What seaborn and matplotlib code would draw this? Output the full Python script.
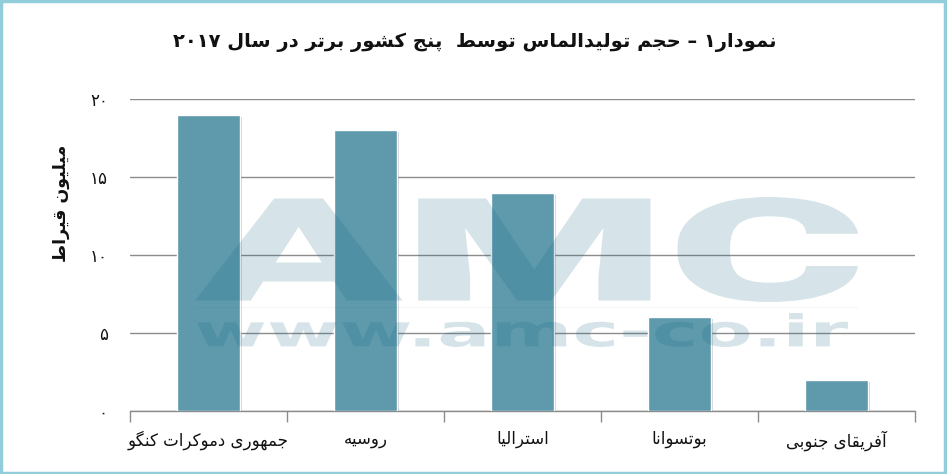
import matplotlib
matplotlib.use("Agg")
import matplotlib.pyplot as plt
import matplotlib.patheffects as pe
from matplotlib.textpath import TextPath
from matplotlib.patches import PathPatch, Rectangle
from matplotlib.font_manager import FontProperties
from matplotlib.transforms import Affine2D
import seaborn as sns
import pandas as pd

# ---------------- data ----------------
categories = ["جمهوری دموکرات کنگو", "روسیه", "استرالیا", "بوتسوانا", "آفریقای جنوبی"]
values = [19, 18, 14, 6, 2]
y_ticks = [0, 5, 10, 15, 20]
y_tick_labels = ["۰", "۵", "۱۰", "۱۵", "۲۰"]
title_text = "نمودار۱ – حجم تولیدالماس توسط  پنج کشور برتر در سال ۲۰۱۷"
ylabel_text = "میلیون قیراط"

# ---------------- simple Arabic/Persian shaping + bidi ----------------
FORMS = {
    'ا': ('\uFE8D', '\uFE8E', None, None),
    'آ': ('\uFE81', '\uFE82', None, None),
    'ب': ('\uFE8F', '\uFE90', '\uFE91', '\uFE92'),
    'پ': ('\uFB56', '\uFB57', '\uFB58', '\uFB59'),
    'ت': ('\uFE95', '\uFE96', '\uFE97', '\uFE98'),
    'ج': ('\uFE9D', '\uFE9E', '\uFE9F', '\uFEA0'),
    'ح': ('\uFEA1', '\uFEA2', '\uFEA3', '\uFEA4'),
    'د': ('\uFEA9', '\uFEAA', None, None),
    'ر': ('\uFEAD', '\uFEAE', None, None),
    'س': ('\uFEB1', '\uFEB2', '\uFEB3', '\uFEB4'),
    'ش': ('\uFEB5', '\uFEB6', '\uFEB7', '\uFEB8'),
    'ط': ('\uFEC1', '\uFEC2', '\uFEC3', '\uFEC4'),
    'ف': ('\uFED1', '\uFED2', '\uFED3', '\uFED4'),
    'ق': ('\uFED5', '\uFED6', '\uFED7', '\uFED8'),
    'ک': ('\uFB8E', '\uFB8F', '\uFB90', '\uFB91'),
    'گ': ('\uFB92', '\uFB93', '\uFB94', '\uFB95'),
    'ل': ('\uFEDD', '\uFEDE', '\uFEDF', '\uFEE0'),
    'م': ('\uFEE1', '\uFEE2', '\uFEE3', '\uFEE4'),
    'ن': ('\uFEE5', '\uFEE6', '\uFEE7', '\uFEE8'),
    'ه': ('\uFEE9', '\uFEEA', '\uFEEB', '\uFEEC'),
    'و': ('\uFEED', '\uFEEE', None, None),
    'ی': ('\uFBFC', '\uFBFD', '\uFBFE', '\uFBFF'),
}
RIGHT_ONLY = set('اآدذرزژو')
DIGITS = set('۰۱۲۳۴۵۶۷۸۹0123456789')


def farsi(text):
    chars = list(text)
    shaped = []
    for i, c in enumerate(chars):
        if c not in FORMS:
            shaped.append(c)
            continue
        prev = chars[i - 1] if i > 0 else None
        nxt = chars[i + 1] if i + 1 < len(chars) else None
        join_prev = prev in FORMS and prev not in RIGHT_ONLY
        join_next = nxt in FORMS and c not in RIGHT_ONLY
        iso, fin, ini, med = FORMS[c]
        if join_prev and join_next:
            g = med
        elif join_prev:
            g = fin
        elif join_next:
            g = ini
        else:
            g = iso
        shaped.append(g)
    runs = []
    for ch, orig in zip(shaped, chars):
        isd = orig in DIGITS
        if runs and runs[-1][0] == isd:
            runs[-1][1].append(ch)
        else:
            runs.append([isd, [ch]])
    out = []
    for isd, seq in reversed(runs):
        out.extend(seq if isd else seq[::-1])
    return "".join(out)


# ---------------- figure ----------------
sns.set_theme(style="white")
plt.rcParams['font.family'] = ['DejaVu Sans']

W, H = 947, 474
fig = plt.figure(figsize=(W / 100, H / 100), dpi=100)
fig.patch.set_facecolor("white")

left, right, bottom, top = 130, 915, 411, 99
ax = fig.add_axes([left / W, 1 - bottom / H, (right - left) / W, (bottom - top) / H])

df = pd.DataFrame({"country": [farsi(c) for c in categories], "value": values})
sns.barplot(data=df, x="country", y="value", color="#5e9aab", saturation=1,
            width=0.4, ax=ax, zorder=3)
for p in ax.patches:
    p.set_path_effects([pe.SimplePatchShadow(offset=(1.5, -1.5), alpha=0.25, shadow_rgbFace="#444444"),
                        pe.Normal()])

ax.set_ylim(0, 20)
ax.set_xlim(-0.5, len(categories) - 0.5)
ax.set_yticks(y_ticks)
ax.set_yticklabels(y_tick_labels, fontsize=12, color="#111111")
ax.yaxis.grid(True, color="#8c8c8c", linewidth=1.0, zorder=0)
ax.xaxis.grid(False)
ax.set_axisbelow(True)
for s in ["top", "right", "left"]:
    ax.spines[s].set_visible(False)
ax.spines["bottom"].set_color("#8c8c8c")
ax.spines["bottom"].set_linewidth(1.0)
ax.tick_params(axis="y", length=0, pad=16)
ax.tick_params(axis="x", which="major", length=0, pad=14, labelsize=12, labelcolor="#111111")
ax.set_xticks([i - 0.5 for i in range(len(categories) + 1)], minor=True)
ax.tick_params(axis="x", which="minor", bottom=True, length=8, color="#8c8c8c", width=1.0)
ax.set_xlabel("")
ax.set_ylabel(farsi(ylabel_text), fontsize=12.5, fontweight="bold", color="#111111")
ax.yaxis.set_label_coords(-0.077, 0.667)

fig.text(475 / W, 1 - 42 / H, farsi(title_text), ha="center", va="center",
         fontsize=14, fontweight="bold", color="#111111")

# ---------------- watermark (drawn over bars) ----------------
heavy = FontProperties(family=["Roboto", "DejaVu Sans"], weight=900)
bold = FontProperties(family="DejaVu Sans", weight="bold")


def fit_text(s, x0, x1, y0, y1, prop):
    tp = TextPath((0, 0), s, size=100, prop=prop)
    ext = tp.get_extents()
    sx = (x1 - x0) / ext.width
    sy = (y1 - y0) / ext.height
    tr = Affine2D().translate(-ext.x0, -ext.y0).scale(sx, sy).translate(x0, H - y1)
    path = tr.transform_path(tp)
    patch = PathPatch(path, facecolor="#0e6484", edgecolor="none", alpha=0.17,
                      transform=None, zorder=10)
    fig.patches.append(patch)
    patch.set_figure(fig)


fit_text("AMC", 195, 858, 197, 302, heavy)
fit_text("www.amc-co.ir", 197, 848, 313, 347, bold)
line = Rectangle((195 / W, 1 - 308 / H), (858 - 195) / W, 1.5 / H, transform=fig.transFigure,
                 facecolor="#0e6484", alpha=0.06, edgecolor="none", zorder=10)
fig.patches.append(line)

# ---------------- border ----------------
border = Rectangle((0.001, 0.002), 0.997, 0.995, transform=fig.transFigure,
                   facecolor="none", edgecolor="#92cddc", linewidth=2.5, zorder=20)
fig.patches.append(border)

fig.savefig("out.png", dpi=100)
